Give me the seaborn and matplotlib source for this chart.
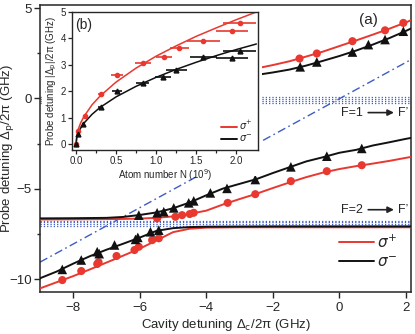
import numpy as np
import pandas as pd
import matplotlib
matplotlib.use('Agg')
import matplotlib.pyplot as plt
from matplotlib.patches import Rectangle
from matplotlib.lines import Line2D
import seaborn as sns

# ---------------- data ----------------
# (a) measured points, sigma+ (red circles)
sp_low_x = [-8.33, -7.76, -7.28, -7.24, -6.70, -6.16, -6.03, -5.63, -5.43]
sp_low_y = [-10.04, -9.54, -9.15, -9.05, -8.71, -8.38, -8.20, -7.83, -7.73]
sp_mid_x = [-5.48, -4.93, -4.73, -4.50, -4.38, -3.36, -2.53, -1.46, -0.38, 0.67]
sp_mid_y = [-6.63, -6.54, -6.45, -6.39, -6.32, -5.77, -5.29, -4.57, -4.02, -3.69]
sp_up_x = [-1.20, -0.68, 0.39, 1.37, 1.92]
sp_up_y = [2.21, 2.49, 3.17, 3.77, 4.18]

# sigma- (black triangles)
sm_low_x = [-8.33, -7.76, -7.28, -7.22, -6.76, -6.13, -6.06, -5.68, -5.43]
sm_low_y = [-9.45, -8.93, -8.47, -8.58, -8.10, -7.79, -7.68, -7.37, -7.28]
sm_mid_x = [-6.03, -5.48, -5.28, -4.98, -4.53, -4.38, -3.88, -3.38, -2.53, -1.46, -0.38, 0.67]
sm_mid_y = [-6.45, -6.32, -6.26, -6.05, -5.77, -5.66, -5.22, -4.97, -4.48, -3.78, -3.19, -2.76]
sm_up_x = [-1.18, -0.68, 0.39, 0.87, 1.37, 1.92]
sm_up_y = [1.75, 2.02, 2.57, 2.98, 3.26, 3.72]

# (a) theory curves
up_x = [-2.5, -2.0, -1.5, -1.0, -0.5, 0.0, 0.5, 1.0, 1.5, 2.0, 2.15]
sp_up_fit = [1.66, 1.85, 2.06, 2.32, 2.59, 2.90, 3.21, 3.53, 3.86, 4.21, 4.33]
sm_up_fit = [1.30, 1.44, 1.60, 1.82, 2.08, 2.35, 2.65, 2.98, 3.34, 3.74, 3.87]

mid_x = [-9.0, -8.0, -7.0, -6.5, -6.0, -5.5, -5.0, -4.5, -4.0, -3.5, -3.0, -2.5,
         -2.0, -1.5, -1.0, -0.5, 0.0, 0.5, 1.0, 1.5, 2.0, 2.15]
sm_mid_fit = [-6.63, -6.62, -6.60, -6.55, -6.44, -6.30, -6.07, -5.75, -5.35, -4.98, -4.72, -4.46,
              -4.12, -3.80, -3.48, -3.25, -3.00, -2.84, -2.60, -2.42, -2.23, -2.18]
sp_mid_fit = [-6.69, -6.68, -6.67, -6.66, -6.64, -6.60, -6.52, -6.38, -6.20, -5.86, -5.56, -5.27,
              -4.95, -4.64, -4.35, -4.10, -3.90, -3.74, -3.60, -3.45, -3.28, -3.23]

low_x = [-9.0, -8.5, -8.0, -7.5, -7.0, -6.5, -6.0, -5.5, -5.0, -4.5, -4.0, -3.0, -2.0, 0.0, 2.15]
sm_low_fit = [-9.94, -9.57, -9.13, -8.72, -8.36, -8.03, -7.69, -7.32, -7.17, -7.11, -7.09, -7.08, -7.07, -7.07, -7.07]
sp_low_fit = [-10.50, -10.16, -9.82, -9.45, -9.07, -8.69, -8.30, -7.85, -7.39, -7.20, -7.14, -7.12, -7.12, -7.12, -7.12]

cav_x = [-9.0, 2.15]
cav_y = [-9.05, 2.15]
f1_levels = [0.08, -0.02, -0.12, -0.24]
f2_levels = [-6.75, -6.85, -6.95, -7.05]

# (b) inset
n_sp = [0.0, 0.03, 0.11, 0.31, 0.51, 0.83, 1.10, 1.29, 1.59, 1.95, 2.04]
d_sp = [0.0, 0.50, 1.06, 1.90, 2.60, 3.07, 3.30, 3.64, 3.90, 4.28, 4.58]
e_sp = [0.01, 0.01, 0.02, 0.03, 0.07, 0.10, 0.10, 0.12, 0.20, 0.20, 0.21]
n_sm = [0.0, 0.03, 0.09, 0.31, 0.51, 0.83, 1.09, 1.25, 1.59, 1.95, 2.04]
d_sm = [0.0, 0.40, 0.75, 1.40, 2.00, 2.30, 2.55, 2.80, 3.30, 3.25, 3.52]
e_sm = [0.01, 0.01, 0.02, 0.03, 0.06, 0.08, 0.10, 0.13, 0.17, 0.20, 0.21]
n_fit = [0.0, 0.01, 0.03, 0.06, 0.1, 0.2, 0.3, 0.5, 0.75, 1.0, 1.25, 1.5, 1.75, 2.0, 2.25]
sp_fit = [0.0, 0.33, 0.58, 0.82, 1.05, 1.49, 1.82, 2.35, 2.88, 3.33, 3.72, 4.08, 4.40, 4.71, 5.00]
sm_fit = [0.0, 0.25, 0.44, 0.62, 0.80, 1.13, 1.39, 1.79, 2.19, 2.53, 2.83, 3.10, 3.35, 3.58, 3.79]

RED = '#e8382f'
BLACK = '#111111'
BLUE = '#3d5cc4'

sns.set_style('ticks')
plt.rcParams['font.family'] = ['Liberation Sans', 'DejaVu Sans']
plt.rcParams['mathtext.fontset'] = 'dejavusans'
plt.rcParams['axes.linewidth'] = 1.1

fig = plt.figure(figsize=(4.15, 3.34), dpi=100)
ax = fig.add_axes([40 / 415, 1 - 292 / 334, (411 - 40) / 415, (292 - 5) / 334])

# reference levels
for lv in f1_levels:
    ax.axhline(lv, color=BLUE, ls=':', lw=0.9, zorder=1)
for lv in f2_levels:
    ax.axhline(lv, color=BLUE, ls=':', lw=0.9, zorder=1)
sns.lineplot(x=cav_x, y=cav_y, ax=ax, color=BLUE, lw=1.0, ls=(0, (6, 2.5, 1.2, 2.5)), zorder=2)

# theory curves
for xs, ys, c in [(up_x, sp_up_fit, RED), (up_x, sm_up_fit, BLACK),
                  (mid_x, sp_mid_fit, RED), (mid_x, sm_mid_fit, BLACK),
                  (low_x, sp_low_fit, RED), (low_x, sm_low_fit, BLACK)]:
    sns.lineplot(x=xs, y=ys, ax=ax, color=c, lw=1.4, sort=False, estimator=None, zorder=3)

# measured points
sp_df = pd.DataFrame({'x': sp_low_x + sp_mid_x + sp_up_x, 'y': sp_low_y + sp_mid_y + sp_up_y})
sm_df = pd.DataFrame({'x': sm_low_x + sm_mid_x + sm_up_x, 'y': sm_low_y + sm_mid_y + sm_up_y})
sns.scatterplot(data=sp_df, x='x', y='y', ax=ax, color=RED, marker='o', s=34, edgecolor='none', zorder=4)
sns.scatterplot(data=sm_df, x='x', y='y', ax=ax, color=BLACK, marker='^', s=48, edgecolor='none', zorder=4)

ax.set_xlim(-9.0, 2.15)
ax.set_ylim(-10.7, 5.17)
ax.set_xticks([-8, -6, -4, -2, 0, 2])
ax.set_yticks([-10, -5, 0, 5])
ax.set_yticks([-7.5, -2.5, 2.5], minor=True)
ax.tick_params(axis='both', which='major', labelsize=9.5, length=4, width=1, direction='out')
ax.tick_params(axis='y', which='major', pad=2)
ax.tick_params(axis='y', which='minor', length=2.5, width=1, direction='out')
ax.set_xlabel('Cavity detuning Δ$_\\mathrm{c}$/2π (GHz)', fontsize=9.5, labelpad=2)
ax.set_ylabel('Probe detuning Δ$_\\mathrm{p}$/2π (GHz)', fontsize=9.5)
ax.yaxis.set_label_coords(-0.064, 0.5)

# annotations
ax.text(0.88, 4.35, '(a)', fontsize=11, ha='center', va='center')
for ylev, lab in [(-0.78, 'F=1'), (-6.15, 'F=2')]:
    ax.text(0.05, ylev, lab, fontsize=9, ha='left', va='center')
    ax.annotate('', xy=(1.72, ylev), xytext=(0.78, ylev),
                arrowprops=dict(arrowstyle='-|>', color='#222222', lw=1.2, mutation_scale=9))
    ax.text(1.76, ylev, "F’", fontsize=9, ha='left', va='center')

handles = [Line2D([], [], color=RED, lw=1.4), Line2D([], [], color=BLACK, lw=1.4)]
ax.legend(handles, [r'$\sigma^{+}$', r'$\sigma^{-}$'], loc='lower right', frameon=False,
          fontsize=11, handlelength=2.3, handletextpad=0.2, labelspacing=0.3,
          bbox_to_anchor=(1.0, 0.03))
ax.get_legend().set_zorder(6)

# white box behind inset
ax.add_patch(Rectangle((43 / 415, 1 - 176 / 334), (262 - 43) / 415, (176 - 6) / 334,
                       transform=fig.transFigure, facecolor='white', edgecolor='none',
                       zorder=10, clip_on=False))

# inset
ins = fig.add_axes([72 / 415, 1 - 150 / 334, (258 - 72) / 415, (150 - 12) / 334])
sns.lineplot(x=n_fit, y=sp_fit, ax=ins, color=RED, lw=1.1, sort=False, estimator=None)
sns.lineplot(x=n_fit, y=sm_fit, ax=ins, color=BLACK, lw=1.1, sort=False, estimator=None)
ins.errorbar(n_sp, d_sp, xerr=e_sp, fmt='o', ms=3, color=RED, elinewidth=1.2, capsize=0)
ins.errorbar(n_sm, d_sm, xerr=e_sm, fmt='^', ms=3.5, color=BLACK, elinewidth=1.2, capsize=0)
ins.set_xlim(-0.05, 2.27)
ins.set_ylim(-0.22, 5.0)
ins.set_xticks([0, 0.5, 1.0, 1.5, 2.0])
ins.set_xticks([0.25, 0.75, 1.25, 1.75], minor=True)
ins.set_xticklabels(['0.0', '0.5', '1.0', '1.5', '2.0'])
ins.set_yticks([0, 1, 2, 3, 4, 5])
ins.tick_params(axis='both', which='major', labelsize=7, length=3, width=0.9, pad=1.5)
ins.tick_params(axis='x', which='minor', length=2, width=0.9)
for sp in ins.spines.values():
    sp.set_linewidth(1.0)
ins.set_xlabel('Atom number N (10$^9$)', fontsize=7, labelpad=1)
ins.set_ylabel('Probe detuning |Δ$_\\mathrm{p}$|/2π (GHz)', fontsize=7, labelpad=1)
ins.text(0.1, 4.5, '(b)', fontsize=10, ha='center', va='center')
ins.legend(handles, [r'$\sigma^{+}$', r'$\sigma^{-}$'], loc='lower right', frameon=False,
           fontsize=7, handlelength=1.6, handletextpad=0.2, labelspacing=0.1,
           borderaxespad=0.2)

fig.savefig('out.png', dpi=100)
